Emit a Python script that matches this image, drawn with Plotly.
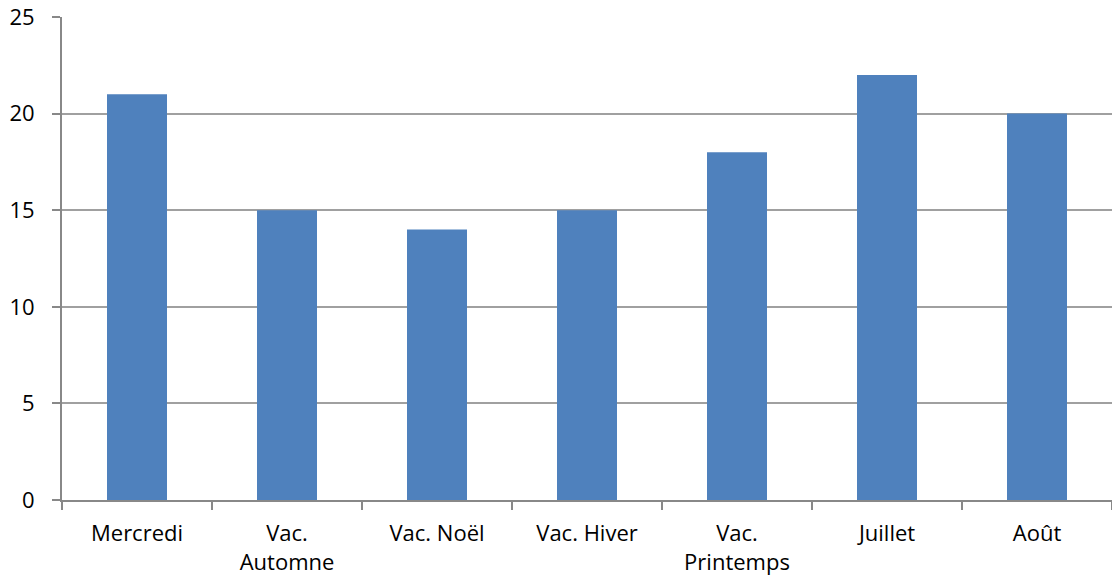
import plotly.graph_objects as go

categories = ["Mercredi", "Vac.<br>Automne", "Vac. Noël", "Vac. Hiver", "Vac.<br>Printemps", "Juillet", "Août"]
values = [21, 15, 14, 15, 18, 22, 20]
y_ticks = [0, 5, 10, 15, 20, 25]

fig = go.Figure(go.Bar(x=categories, y=values, marker=dict(color="#4F81BD", line=dict(width=0)), width=0.4))

fig.update_layout(
    width=1112, height=585,
    margin=dict(l=62, r=0, t=17, b=85),
    paper_bgcolor="white", plot_bgcolor="white",
    font=dict(family="Open Sans, sans-serif", size=22, color="black"),
    showlegend=False,
)
fig.update_xaxes(
    type="category", tickson="boundaries", ticks="outside", ticklen=8, tickcolor="#888888", tickwidth=2,
    showline=True, linecolor="#888888", linewidth=2, showgrid=False, ticklabelstandoff=13,
    range=[-0.5, 6.5], automargin=False,
)
fig.update_yaxes(
    range=[0, 25], tickvals=y_ticks, ticks="outside", ticklen=8, tickcolor="#888888", tickwidth=2,
    showline=True, linecolor="#888888", linewidth=2, showgrid=True, gridcolor="#A0A0A0", gridwidth=2,
    zeroline=False, ticklabelstandoff=13, automargin=False,
)
fig.write_html(
    "out.html",
    config={"displayModeBar": False},
    post_script="document.body.style.margin='0';document.body.style.overflow='hidden';",
)
